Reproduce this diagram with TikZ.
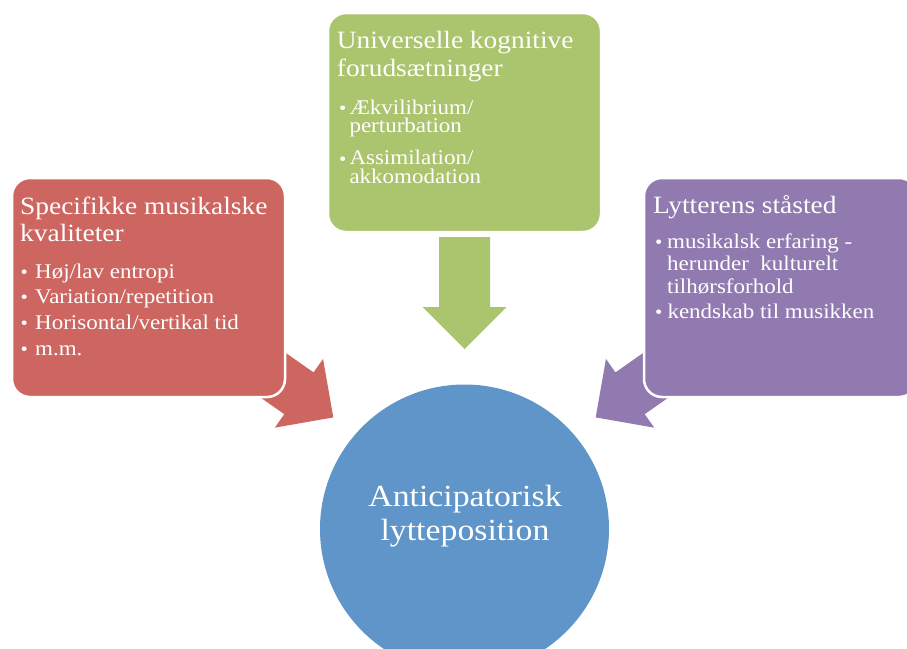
\documentclass[tikz,border=0pt]{standalone}
\usepackage{fontspec}
\setmainfont[FakeStretch=1.1]{Liberation Serif}
\usetikzlibrary{calc}
\definecolor{cred}{HTML}{CD6660}
\definecolor{cgreen}{HTML}{ABC46E}
\definecolor{cpurple}{HTML}{917AB0}
\definecolor{cblue}{HTML}{5F95C8}
\newcommand{\blockarrow}[3]{%
  \coordinate (#2-m) at ($(#2)!70pt!(#3)$);
  \fill[#1] ($(#2)!25.5pt!90:(#3)$) -- ($(#2-m)!25.5pt!90:(#3)$) -- ($(#2-m)!42pt!90:(#3)$) -- (#3)
    -- ($(#2-m)!42pt!-90:(#3)$) -- ($(#2-m)!25.5pt!-90:(#3)$) -- ($(#2)!25.5pt!-90:(#3)$) -- cycle;}
\tikzset{
  box/.style={rectangle, rounded corners=18pt, minimum width=273pt, minimum height=219pt,
    draw=white, line width=2.5pt, inner sep=0pt},
  ttl/.style={anchor=base west, inner sep=0pt, text=white, font=\fontsize{24.9}{27.7}\selectfont, align=left},
  blt/.style={anchor=base west, inner sep=0pt, text=white, font=\fontsize{20.9}{24}\selectfont},
  mblt/.style={anchor=base west, inner sep=0pt, text=white, align=left, font=\fontsize{20.9}{#1}\selectfont},
  dot/.style={anchor=base west, inner sep=0pt, text=white, font=\fontsize{19}{20}\selectfont},
  hubtxt/.style={anchor=base, inner sep=0pt, text=white, font=\fontsize{30.7}{34}\selectfont, align=center}
}
\begin{document}
\begin{tikzpicture}[x=1pt,y=-1pt]
\useasboundingbox (0,0) rectangle (907,648);
\clip (0,0) rectangle (907,648);
\fill[white] (0,0) rectangle (907,648);
% arrow end points
\coordinate (redtail) at (241.6,353.1);
\coordinate (redtip) at (333.3,417.4);
\coordinate (purtail) at (687.4,353.1);
\coordinate (purtip) at (595.7,417.4);
\coordinate (grntail) at (464.5,237);
\coordinate (grntip) at (464.5,349);
\blockarrow{cred}{redtail}{redtip}
\blockarrow{cpurple}{purtail}{purtip}
\blockarrow{cgreen}{grntail}{grntip}
% boxes
\node[box, fill=cred] (red) at (148.5,287.5) {};
\node[box, fill=cgreen] (green) at (464.5,122.5) {};
\node[box, fill=cpurple] (purple) at (780.5,287.5) {};
\node[circle, fill=cblue, minimum size=289pt, inner sep=0pt] (hub) at (464.5,529) {};
% red texts (anchor = baseline of last line)
\node[ttl] (r-t) at (20,241.7) {Specifikke musikalske\\kvaliteter};
\node[dot] (r-d1) at (20.5,278.3) {\textbullet};
\node[blt] (r-b1) at (35,278.3) {Høj/lav entropi};
\node[dot] (r-d2) at (20.5,303.3) {\textbullet};
\node[blt] (r-b2) at (35,303.3) {Variation/repetition};
\node[dot] (r-d3) at (20.5,329.3) {\textbullet};
\node[blt] (r-b3) at (35,329.3) {Horisontal/vertikal tid};
\node[dot] (r-d4) at (20.5,355) {\textbullet};
\node[blt] (r-b4) at (35,355) {m.m.};
% green texts
\node[ttl] (g-t) at (336.7,76) {Universelle kognitive\\forudsætninger};
\node[dot] (g-d1) at (339,114.3) {\textbullet};
\node[mblt=18.4] (g-b1) at (349.3,132.7) {Ækvilibrium/\\perturbation};
\node[dot] (g-d2) at (339,165) {\textbullet};
\node[mblt=18.4] (g-b2) at (349.3,183.3) {Assimilation/\\akkomodation};
% purple texts
\node[ttl] (p-t) at (653,213.3) {Lytterens ståsted};
\node[dot] (p-d1) at (655,248.3) {\textbullet};
\node[mblt=22.5] (p-b1) at (667,293.3) {musikalsk erfaring -\\herunder~ kulturelt\\tilhørsforhold};
\node[dot] (p-d2) at (655,318.3) {\textbullet};
\node[blt] (p-b2) at (667.3,318.3) {kendskab til musikken};
% hub text
\node[hubtxt] (h) at (465,540.7) {Anticipatorisk\\lytteposition};
\end{tikzpicture}
\end{document}
